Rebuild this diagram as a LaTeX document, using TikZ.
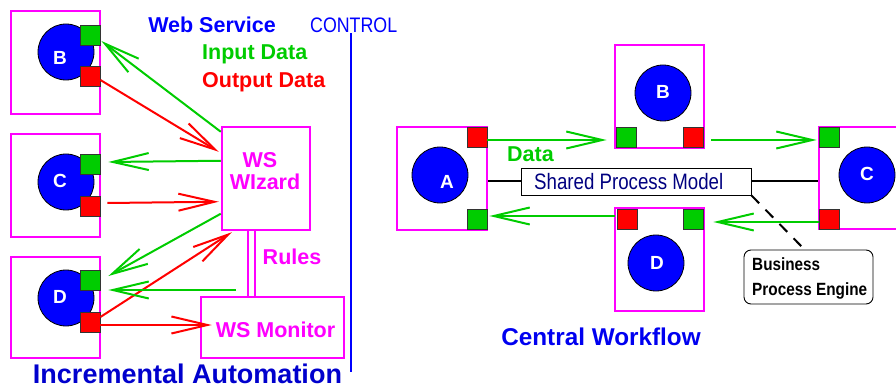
\documentclass[tikz,border=0pt]{standalone}
\usepackage{fontspec}
\usepackage{graphicx}
\setmainfont{Liberation Sans}
\usetikzlibrary{arrows.meta,calc}
\definecolor{mag}{RGB}{255,0,255}
\definecolor{grn}{RGB}{0,204,0}
\definecolor{rd}{RGB}{255,0,0}
\definecolor{bl}{RGB}{0,0,255}
\definecolor{dbl}{RGB}{0,0,205}
\definecolor{cwb}{RGB}{0,0,240}
\definecolor{navy}{RGB}{0,0,128}
\begin{document}
\begin{tikzpicture}[x=1pt,y=-1pt,
  box/.style={draw=mag,line width=2.5pt,inner sep=0pt},
  sq/.style={draw=black!80,line width=0.8pt,minimum size=20pt,inner sep=0pt},
  gsq/.style={sq,fill=grn},
  rsq/.style={sq,fill=rd},
  ball/.style={circle,draw=black,line width=0.8pt,fill=bl,minimum size=56pt,inner sep=0pt},
  lett/.style={text=white,font=\bfseries\fontsize{19}{19}\selectfont,inner sep=0pt,anchor=base},
  lbl/.style={font=\bfseries\fontsize{21.5}{22}\selectfont,inner sep=0pt,anchor=base},
  garr/.style={draw=grn,line width=2pt,-{Straight Barb[length=36pt,width=17pt]}},
  rarr/.style={garr,draw=rd},
  blk/.style={draw=black,line width=2pt}]
\useasboundingbox (0,0) rectangle (896,387);
\clip (0,0) rectangle (896,387);

% ---------- left panel ----------
\node[box,minimum width=89pt,minimum height=103pt] (lBbox) at (55.5,62.5) {};
\node[box,minimum width=89pt,minimum height=103pt] (lCbox) at (55.5,185.5) {};
\node[box,minimum width=89pt,minimum height=101pt] (lDbox) at (55.5,307.5) {};

\node[ball] (lB) at (66,52) {};
\node[ball] (lC) at (66,182) {};
\node[ball] (lD) at (66,298) {};
\node[lett] (lBt) at ($(lB)+(-6,12.8)$) {B};
\node[lett] (lCt) at ($(lC)+(-6,5.8)$) {C};
\node[lett] (lDt) at ($(lD)+(-6,5.8)$) {D};

\node[gsq] (lbG) at (90,35.5) {};
\node[rsq] (lbR) at (90,76.5) {};
\node[gsq] (lcG) at (90,164.5) {};
\node[rsq] (lcR) at (90,206) {};
\node[gsq] (ldG) at (90,280) {};
\node[rsq] (ldR) at (90,322) {};

\node[box,minimum width=88pt,minimum height=103pt] (wiz) at (266,178.5) {};
\node[lbl,text=mag] (wizt1) at (260,167.7) {WS};
\node[lbl,text=mag] (wizt2) at (265,189.7) {WIzard};
\node[box,minimum width=143pt,minimum height=61pt] (mon) at (272.5,327.5) {};
\node[lbl,text=mag] (mont) at (275.5,337.7) {WS Monitor};

\draw[mag,line width=2pt] ($(wiz.south west)+(27,0)$) -- ($(mon.north west)+(48,0)$);
\draw[mag,line width=2pt] ($(wiz.south west)+(34,0)$) -- ($(mon.north west)+(55,0)$);
\node[lbl,text=mag] (rules) at (292,264.7) {Rules};

\node[lbl,text=bl] (ws) at (212,32.7) {Web Service};
\node[inner sep=0pt,anchor=base west,text=bl,font=\fontsize{21}{21}\selectfont] (ctl) at (310,32.5) {\resizebox{87pt}{\height}{CONTROL}};
\draw[bl,line width=2pt] (351,33) -- (351,372);
\node[lbl,text=grn,anchor=base west] (inp) at (202,59.7) {Input Data};
\node[lbl,text=rd,anchor=base west] (outp) at (202,87.7) {Output Data};
\node[inner sep=0pt,anchor=base,text=dbl,font=\bfseries\fontsize{27}{27}\selectfont] (inc) at (187.5,383.5) {Incremental Automation};

\draw[garr] ($(wiz.north west)+(0,6)$) -- ($(lbG.east)+(1,5.5)$);
\draw[rarr] ($(lbR.east)+(0,3.5)$) -- ($(wiz.north west)+(-2,26)$);
\draw[garr] ($(wiz.north west)+(0,35)$) -- ($(lcG.east)+(8,-2.5)$);
\draw[rarr] ($(lcR.east)+(7,-3)$) -- ($(wiz.north west)+(-2,76)$);
\draw[garr] ($(wiz.north west)+(0,88)$) -- ($(ldG.east)+(8,-4)$);
\draw[rarr] ($(ldR.east)+(0,-5)$) -- ($(wiz.south west)+(11,1)$);
\coordinate (g7) at (236,290);
\draw[garr] (g7) -- ($(ldG.east)+(8,10)$);
\draw[rarr] ($(ldR.east)+(0,3)$) -- ($(mon.west)+(12,-2.5)$);

% ---------- right panel ----------
\node[box,minimum width=90pt,minimum height=103pt] (rAbox) at (442,178.5) {};
\node[box,minimum width=89pt,minimum height=103pt] (rBbox) at (659.5,96.5) {};
\node[box,minimum width=89pt,minimum height=103pt] (rDbox) at (659.5,259.5) {};
\node[box,minimum width=100pt,minimum height=102pt] (rCbox) at (869,178) {};

\node[ball] (rA) at (440,175) {};
\node[ball] (rB) at (663,93) {};
\node[ball] (rC) at (867,175) {};
\node[ball] (rD) at (656,263) {};
\node[lett] (rAt) at ($(rA)+(7,13.8)$) {A};
\node[lett] (rBt) at ($(rB)+(0,5.8)$) {B};
\node[lett] (rCt) at ($(rC)+(0,5.8)$) {C};
\node[lett] (rDt) at ($(rD)+(1,6.8)$) {D};

\node[rsq] (aR) at (477,137) {};
\node[gsq] (aG) at (477,219) {};
\node[gsq] (rbG) at (626,137) {};
\node[rsq] (rbR) at (693,137) {};
\node[gsq] (rcG) at (829,137) {};
\node[rsq] (rcR) at (829,219) {};
\node[rsq] (rdR) at (627,219) {};
\node[gsq] (rdG) at (693,219) {};

\node[draw=black,line width=0.9pt,fill=white,minimum width=230pt,minimum height=27pt,inner sep=0pt] (spm) at (636,181.5) {};
\node[inner sep=0pt,anchor=base west,text=navy,font=\fontsize{22.3}{22}\selectfont] (spmt) at (534,189.3) {\resizebox{189pt}{\height}{Shared Process Model}};

\draw[blk] (spm.west -| rAbox.east) -- (spm.west);
\draw[blk] (spm.east) -- (spm.east -| rCbox.west);
\draw[blk] ($(spm.north west)+(128,0)$) -- ($(spm.north west)+(128,0)$ |- rBbox.south);
\draw[blk] ($(spm.south west)+(128,0)$) -- ($(spm.south west)+(128,0)$ |- rDbox.north);

\node[draw=black,line width=0.9pt,rounded corners=7pt,minimum width=129pt,minimum height=54pt,inner sep=0pt] (biz) at (808.5,277) {};
\node[inner sep=0pt,anchor=base west,font=\bfseries\fontsize{17.7}{18}\selectfont] (bizt1) at (752,270) {\resizebox{68pt}{\height}{Business}};
\node[inner sep=0pt,anchor=base west,font=\bfseries\fontsize{17.7}{18}\selectfont] (bizt2) at (752,295) {\resizebox{115pt}{\height}{Process Engine}};
\draw[black,line width=2pt,dash pattern=on 11pt off 9pt] (spm.south east) -- ($(biz.north west)+(61,0)$);

\draw[garr] ($(aR.east)+(0,3)$) -- ($(rbG.west)+(-9,3)$);
\draw[garr] ($(rbR.east)+(8,3)$) -- ($(rcG.west)+(-2,3)$);
\draw[garr] ($(rdR.west)+(-2,-3)$) -- ($(aG.east)+(2,-3)$);
\draw[garr] ($(rcR.west)+(0,3)$) -- ($(rdG.east)+(10,3)$);

\node[lbl,text=grn] (data) at (530.5,162) {Data};
\node[inner sep=0pt,anchor=base,text=cwb,font=\bfseries\fontsize{24.3}{25}\selectfont] (cw) at (601,345.5) {Central Workflow};
\end{tikzpicture}
\end{document}
